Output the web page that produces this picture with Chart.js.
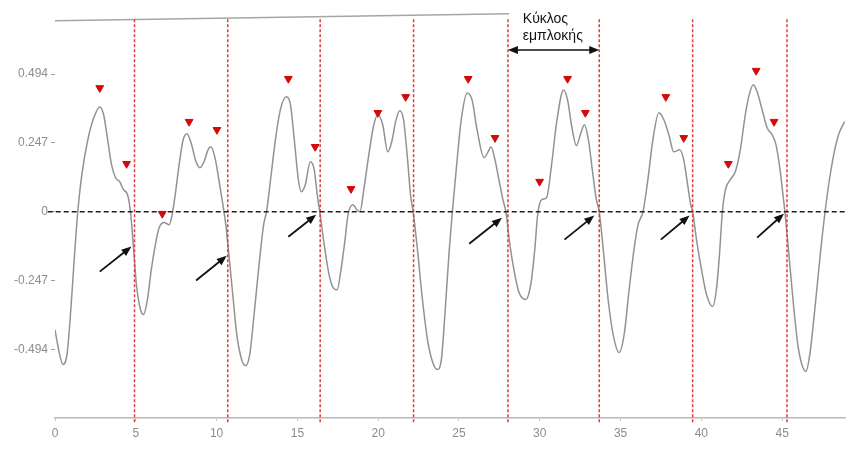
<!DOCTYPE html>
<html>
<head>
<meta charset="utf-8">
<script src="https://cdn.jsdelivr.net/npm/chart.js@4.4.1/dist/chart.umd.min.js"></script>
<style>
  html, body { margin: 0; padding: 0; background: #fff; }
  #wrap { width: 851px; height: 452px; position: relative; }
</style>
</head>
<body>
<div id="wrap"><canvas id="c"></canvas></div>
<script>
// signal trace (msec / amplitude)
const timeMs = [
  0, 0.25, 0.49, 0.74, 0.98, 1.23, 1.41, 1.66, 2.03, 2.40, 2.77, 3.01, 3.26, 3.50, 3.75, 4.00, 4.24, 4.49, 4.67, 4.86,
  5.04, 5.29, 5.47, 5.72, 5.96, 6.27, 6.45, 6.76, 7.07, 7.25, 7.44, 7.68, 7.93, 8.17, 8.42, 8.73, 8.97, 9.22, 9.47, 9.65,
  9.90, 10.14, 10.39, 10.57, 10.76, 11.00, 11.25, 11.55, 11.80, 12.05, 12.35, 12.66, 12.91, 13.09, 13.34, 13.64, 13.95, 14.32, 14.57, 14.81,
  15.06, 15.24, 15.49, 15.80, 16.04, 16.23, 16.41, 16.66, 16.96, 17.21, 17.46, 17.70, 17.95, 18.13, 18.44, 18.68, 18.87, 19.11, 19.42, 19.73,
  19.98, 20.28, 20.59, 20.84, 21.08, 21.33, 21.57, 21.82, 22.00, 22.19, 22.43, 22.74, 23.05, 23.36, 23.66, 23.91, 24.15, 24.40, 24.59, 24.83,
  25.14, 25.51, 25.81, 26.12, 26.55, 26.80, 26.98, 27.23, 27.47, 27.72, 27.90, 28.15, 28.40, 28.70, 29.13, 29.44, 29.69, 29.87, 30.12, 30.42,
  30.73, 31.04, 31.47, 31.72, 31.96, 32.27, 32.51, 32.76, 33.01, 33.25, 33.50, 33.68, 33.93, 34.23, 34.54, 34.91, 35.22, 35.53, 35.83, 36.08,
  36.39, 36.69, 37.00, 37.37, 37.68, 37.99, 38.29, 38.66, 38.91, 39.15, 39.34, 39.46, 39.70, 40.01, 40.32, 40.69, 40.93, 41.12, 41.30, 41.49,
  41.79, 42.10, 42.41, 42.72, 42.96, 43.21, 43.45, 43.76, 44.07, 44.38, 44.62, 44.87, 45.05, 45.17, 45.42, 45.67, 45.97, 46.22, 46.47, 46.71,
  47.02, 47.39, 47.75, 48.13, 48.49, 48.86
];
const signal = [
  -0.423, -0.502, -0.548, -0.513, -0.351, -0.136, 0, 0.133, 0.258, 0.337, 0.376, 0.348, 0.258, 0.168, 0.122, 0.108, 0.079, 0.061, 0, -0.129,
  -0.262, -0.351, -0.369, -0.315, -0.208, -0.100, -0.057, -0.039, -0.047, -0.011, 0.061, 0.168, 0.258, 0.280, 0.247, 0.179, 0.158, 0.179, 0.222, 0.233,
  0.194, 0.115, 0.025, -0.047, -0.154, -0.297, -0.441, -0.530, -0.552, -0.513, -0.351, -0.172, -0.047, 0, 0.115, 0.258, 0.366, 0.412, 0.384, 0.258,
  0.115, 0.072, 0.097, 0.179, 0.151, 0.061, -0.011, -0.118, -0.226, -0.272, -0.280, -0.208, -0.100, -0.011, 0.025, 0.007, 0, 0.079, 0.204, 0.312,
  0.348, 0.312, 0.215, 0.251, 0.323, 0.362, 0.330, 0.186, 0.061, -0.011, -0.136, -0.315, -0.459, -0.538, -0.566, -0.530, -0.351, -0.136, 0, 0.151,
  0.330, 0.426, 0.401, 0.294, 0.194, 0.215, 0.233, 0.186, 0.115, 0.043, 0, -0.118, -0.208, -0.287, -0.315, -0.262, -0.136, -0.011, 0.043, 0.050,
  0.168, 0.319, 0.437, 0.401, 0.312, 0.237, 0.276, 0.312, 0.258, 0.151, 0.043, 0, -0.136, -0.315, -0.441, -0.505, -0.441, -0.280, -0.136, -0.047,
  0, 0.115, 0.258, 0.355, 0.330, 0.276, 0.215, 0.222, 0.186, 0.097, 0.025, 0, -0.100, -0.208, -0.297, -0.340, -0.280, -0.154, 0, 0.079,
  0.115, 0.143, 0.222, 0.348, 0.419, 0.455, 0.430, 0.366, 0.301, 0.276, 0.240, 0.151, 0.061, 0, -0.154, -0.315, -0.477, -0.548, -0.573, -0.513,
  -0.351, -0.136, 0.043, 0.186, 0.276, 0.323
];

// red peak markers
const peakMs  = [2.77, 4.43, 6.64, 8.30, 10.02, 14.44, 16.10, 18.32, 19.98, 21.70, 25.57, 27.23, 29.99, 31.72, 32.82, 37.80, 38.91, 41.67, 43.39, 44.50];
const peakVal = [0.444, 0.172, -0.007, 0.323, 0.294, 0.477, 0.233, 0.082, 0.355, 0.412, 0.477, 0.265, 0.108, 0.477, 0.355, 0.412, 0.265, 0.172, 0.506, 0.323];

// red dashed cycle boundaries
const cycleMs = [4.92, 10.69, 16.41, 22.19, 28.03, 33.68, 39.46, 45.30];

// black arrows to the zero crossings
const arrowFromMs  = [2.77, 8.73, 14.44, 25.63, 31.53, 37.49, 43.45];
const arrowFromVal = [-0.215, -0.247, -0.090, -0.115, -0.100, -0.100, -0.093];
const arrowToMs    = [4.73, 10.63, 16.16, 27.66, 33.37, 39.27, 45.11];
const arrowToVal   = [-0.125, -0.158, -0.011, -0.022, -0.014, -0.014, -0.007];

// top frame line (slightly skewed in the scan)
const frameMs  = [0, 28.1];
const frameVal = [0.685, 0.71];

const xTicks = [0, 5, 10, 15, 20, 25, 30, 35, 40, 45];
const yTicks = [0.494, 0.247, 0, -0.247, -0.494];
const yTickLabels = ['0.494', '0.247', '0', '-0.247', '-0.494'];
const cycleLabel = ['Κύκλος', 'εμπλοκής'];
const unitLabel = 'msec';

const zip = (xs, ys) => xs.map((v, i) => ({ x: v, y: ys[i] }));

function arrowHead(ctx, x1, y1, x2, y2, len, half) {
  const a = Math.atan2(y2 - y1, x2 - x1);
  ctx.beginPath();
  ctx.moveTo(x2, y2);
  ctx.lineTo(x2 - len * Math.cos(a) + half * Math.sin(a), y2 - len * Math.sin(a) - half * Math.cos(a));
  ctx.lineTo(x2 - len * Math.cos(a) - half * Math.sin(a), y2 - len * Math.sin(a) + half * Math.cos(a));
  ctx.closePath();
  ctx.fill();
}

function arrow(ctx, x1, y1, x2, y2) {
  const a = Math.atan2(y2 - y1, x2 - x1);
  ctx.beginPath();
  ctx.moveTo(x1, y1);
  ctx.lineTo(x2 - 8 * Math.cos(a), y2 - 8 * Math.sin(a));
  ctx.stroke();
  arrowHead(ctx, x1, y1, x2, y2, 10, 4);
}

const overlay = {
  id: 'overlay',
  afterDatasetsDraw(chart) {
    const { ctx, scales: { x, y } } = chart;
    ctx.save();
    ctx.strokeStyle = '#111';
    ctx.fillStyle = '#111';
    ctx.lineWidth = 1.8;
    arrowFromMs.forEach((m, i) => {
      arrow(ctx, x.getPixelForValue(m), y.getPixelForValue(arrowFromVal[i]),
        x.getPixelForValue(arrowToMs[i]), y.getPixelForValue(arrowToVal[i]));
    });

    // cycle span arrow + label
    const x1 = x.getPixelForValue(cycleMs[4]), x2 = x.getPixelForValue(cycleMs[5]);
    const ya = y.getPixelForValue(0.58);
    ctx.lineWidth = 1.5;
    ctx.beginPath();
    ctx.moveTo(x1 + 6, ya); ctx.lineTo(x2 - 6, ya);
    ctx.stroke();
    arrowHead(ctx, x2, ya, x1, ya, 10, 4);
    arrowHead(ctx, x1, ya, x2, ya, 10, 4);

    ctx.font = '14px "Liberation Sans", Arial, sans-serif';
    ctx.textAlign = 'left';
    ctx.textBaseline = 'middle';
    const tx = x.getPixelForValue(28.95);
    ctx.fillText(cycleLabel[0], tx, y.getPixelForValue(0.69));
    ctx.fillText(cycleLabel[1], tx, y.getPixelForValue(0.63));

    ctx.font = 'bold 12px "Liberation Sans", Arial, sans-serif';
    ctx.textAlign = 'center';
    ctx.fillStyle = '#222';
    ctx.fillText(unitLabel, x.right - 18, x.bottom + 23);
    ctx.restore();
  }
};

const lineDs = (data, color, width, dash, order) => ({
  type: 'line', data, borderColor: color, borderWidth: width, borderDash: dash,
  pointRadius: 0, fill: false, clip: false, order
});

const datasets = [
  lineDs(zip(frameMs, frameVal), '#a5a5a5', 1.5, [], 5),
  lineDs([{ x: -0.45, y: 0 }, { x: 48.92, y: 0 }], '#222', 1.5, [5, 3], 1),
  ...cycleMs.map(m => lineDs([{ x: m, y: 0.69 }, { x: m, y: -0.755 }], '#e23a3a', 1.5, [3, 2], 2)),
  {
    type: 'line', data: zip(timeMs, signal), borderColor: '#929292', borderWidth: 1.5,
    pointRadius: 0, cubicInterpolationMode: 'monotone', fill: false, order: 3
  },
  {
    type: 'scatter', data: zip(peakMs, peakVal), pointStyle: 'triangle', rotation: 180,
    pointRadius: 4.5, backgroundColor: '#d20a0a', borderColor: '#d20a0a', order: 0
  }
];

new Chart(document.getElementById('c'), {
  type: 'line',
  data: { datasets },
  options: {
    responsive: true,
    maintainAspectRatio: false,
    animation: false,
    events: [],
    layout: { padding: { top: 11, right: 0, left: 0, bottom: 0 } },
    plugins: { legend: { display: false }, tooltip: { enabled: false } },
    scales: {
      x: {
        type: 'linear', min: 0, max: 48.92,
        afterBuildTicks: s => { s.ticks = xTicks.map(v => ({ value: v })); },
        afterFit: s => { s.height = 34; },
        border: { display: true, color: '#b8b8b8', width: 1.5 },
        grid: { drawOnChartArea: false, drawTicks: true, tickLength: 3, color: '#c8c8c8' },
        ticks: { color: '#8c8c8c', padding: 5, maxRotation: 0, font: { family: '"Liberation Sans", Arial, sans-serif', size: 12 } }
      },
      y: {
        type: 'linear', min: -0.74, max: 0.72,
        afterBuildTicks: s => { s.ticks = yTicks.map(v => ({ value: v })); },
        afterFit: s => { s.width = 55; },
        border: { display: false },
        grid: { drawOnChartArea: false, drawTicks: true, tickLength: 4, color: '#a0a0a0' },
        ticks: {
          color: '#8c8c8c', padding: 3,
          font: { family: '"Liberation Sans", Arial, sans-serif', size: 12 },
          callback: v => yTickLabels[yTicks.indexOf(v)]
        }
      }
    }
  },
  plugins: [overlay]
});
</script>
</body>
</html>
